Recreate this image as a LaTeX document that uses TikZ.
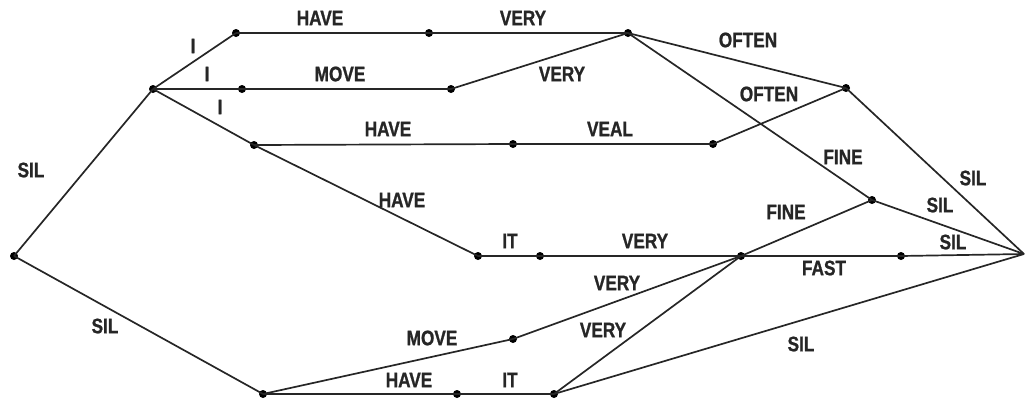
\documentclass[tikz,border=0pt]{standalone}
\usepackage{fontspec}
\setmainfont{Liberation Sans}
\newfontfamily\lblfont[FakeStretch=0.82,FakeBold=1]{Liberation Sans Bold}
\begin{document}
\begin{tikzpicture}[x=1pt,y=-1pt,
  dot/.style={circle,fill=black,inner sep=0pt,minimum size=8pt},
  edge/.style={line width=1.7pt,black!85},
  lbl/.style={font=\lblfont\fontsize{21}{21}\selectfont,text=black!85,inner sep=0pt}]
\useasboundingbox (0,0) rectangle (1026,400);
% nodes
\node[dot] (S) at (14,256) {};
\node[dot] (A) at (153,89) {};
\node[dot] (B) at (236,33) {};
\node[dot] (C) at (429,33) {};
\node[dot] (D) at (628,33) {};
\node[dot] (E) at (242,89) {};
\node[dot] (F) at (451,89) {};
\node[dot] (G) at (254,145) {};
\node[dot] (H) at (513,144) {};
\node[dot] (J) at (713,144) {};
\node[dot] (K) at (846,88) {};
\node[dot] (L) at (872,200) {};
\node[dot] (M) at (478,256) {};
\node[dot] (N) at (540,256) {};
\node[dot] (P) at (741,256) {};
\node[dot] (Q) at (901,256) {};
\coordinate (Z) at (1024,254);
\node[dot] (R) at (263,394) {};
\node[dot] (T) at (457,394) {};
\node[dot] (U) at (554,394) {};
\node[dot] (V) at (513,339) {};
% connectors
\draw[edge] (S.center) -- (A.center);
\draw[edge] (S.center) -- (R.center);
\draw[edge] (A.center) -- (B.center);
\draw[edge] (A.center) -- (E.center);
\draw[edge] (A.center) -- (G.center);
\draw[edge] (B.center) -- (C.center);
\draw[edge] (C.center) -- (D.center);
\draw[edge] (E.center) -- (F.center);
\draw[edge] (F.center) -- (D.center);
\draw[edge] (G.center) -- (H.center);
\draw[edge] (H.center) -- (J.center);
\draw[edge] (G.center) -- (M.center);
\draw[edge] (M.center) -- (N.center);
\draw[edge] (N.center) -- (P.center);
\draw[edge] (D.center) -- (K.center);
\draw[edge] (J.center) -- (K.center);
\draw[edge] (D.center) -- (L.center);
\draw[edge] (K.center) -- (Z);
\draw[edge] (L.center) -- (Z);
\draw[edge] (P.center) -- (L.center);
\draw[edge] (P.center) -- (Q.center);
\draw[edge] (Q.center) -- (Z);
\draw[edge] (V.center) -- (P.center);
\draw[edge] (R.center) -- (V.center);
\draw[edge] (R.center) -- (T.center);
\draw[edge] (T.center) -- (U.center);
\draw[edge] (U.center) -- (P.center);
\draw[edge] (U.center) -- (Z);
% labels
\node[lbl] (l1) at (31,170) {SIL};
\node[lbl] (l2) at (105,326) {SIL};
\node[lbl] (l3) at (193,46) {I};
\node[lbl] (l4) at (207,74) {I};
\node[lbl] (l5) at (220,107) {I};
\node[lbl] (l6) at (320,18) {HAVE};
\node[lbl] (l7) at (523,18) {VERY};
\node[lbl] (l8) at (340,74) {MOVE};
\node[lbl] (l9) at (562,74) {VERY};
\node[lbl] (l10) at (748,40) {OFTEN};
\node[lbl] (l11) at (769,94) {OFTEN};
\node[lbl] (l12) at (388,129) {HAVE};
\node[lbl] (l13) at (610,129) {VEAL};
\node[lbl] (l14) at (843,157) {FINE};
\node[lbl] (l15) at (973,178) {SIL};
\node[lbl] (l16) at (402,200) {HAVE};
\node[lbl] (l17) at (510,241) {IT};
\node[lbl] (l18) at (645,241) {VERY};
\node[lbl] (l19) at (786,212) {FINE};
\node[lbl] (l20) at (940,205) {SIL};
\node[lbl] (l21) at (953,242) {SIL};
\node[lbl] (l22) at (824,268) {FAST};
\node[lbl] (l23) at (617,283) {VERY};
\node[lbl] (l24) at (432,338) {MOVE};
\node[lbl] (l25) at (603,330) {VERY};
\node[lbl] (l26) at (409,380) {HAVE};
\node[lbl] (l27) at (510,380) {IT};
\node[lbl] (l28) at (801,344) {SIL};
\end{tikzpicture}
\end{document}
